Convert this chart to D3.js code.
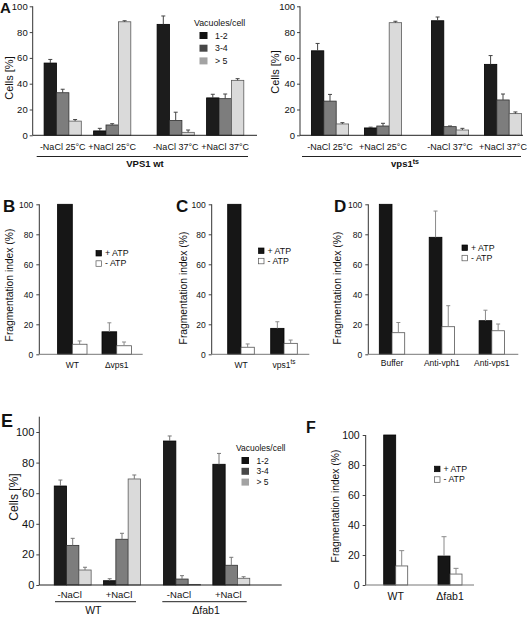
<!DOCTYPE html>
<html><head><meta charset="utf-8">
<script src="https://cdn.jsdelivr.net/npm/d3@7"></script>
<style>html,body{margin:0;padding:0;background:#fff}svg{display:block}text{font-family:"Liberation Sans",Arial,Helvetica,sans-serif;fill:#111}</style>
</head><body>
<script>
// ---------- DATA ----------
const vacSeries = ["1-2", "3-4", "> 5"];
const atpSeries = ["+ ATP", "- ATP"];
const aCategories = ["-NaCl 25°C", "+NaCl 25°C", "-NaCl 37°C", "+NaCl 37°C"];
const aWtValues = [[56, 33, 11], [3.4, 8, 88], [86, 11.5, 2.3], [29, 28.4, 42.6]];
const aWtErrors = [[2.8, 2.7, 1.2], [2, 1, 0.8], [6.5, 6.4, 1.8], [2.8, 3.6, 1.3]];
const aTsValues = [[65.5, 26.5, 8.8], [5.7, 7.2, 87.3], [88.8, 6.7, 4.1], [55, 27.4, 16.8]];
const aTsErrors = [[5.7, 5.2, 1], [0.6, 2.1, 1.1], [2.9, 0.5, 1.3], [6.8, 4.6, 1.3]];
const bCategories = ["WT", "Δvps1"];
const bValues = [[100, 6.7], [15, 5.7]];
const bErrors = [[0, 2.2], [6, 2.5]];
const cCategories = ["WT", "vps1ts"];
const cValues = [[100, 4.7], [17.3, 7.3]];
const cErrors = [[0, 2.2], [4.4, 2.2]];
const dCategories = ["Buffer", "Anti-vph1", "Anti-vps1"];
const dValues = [[100, 14.4], [78, 18.4], [22.4, 15.7]];
const dErrors = [[0, 6.8], [17.5, 14], [7, 4.5]];
const eCategories = ["-NaCl", "+NaCl", "-NaCl", "+NaCl"];
const eGroups = ["WT", "Δfab1"];
const eValues = [[64.7, 25.9, 9.8], [2.8, 29.9, 69.3], [94.1, 3.9, 0.4], [78.9, 12.9, 4.4]];
const eErrors = [[3.9, 4.6, 1.8], [1.3, 3.9, 2.6], [3.3, 2.2, 0], [7.1, 5.2, 1]];
const fCategories = ["WT", "Δfab1"];
const fValues = [[100, 12.7], [19.3, 7.3]];
const fErrors = [[0, 10.2], [12.9, 3.8]];
const pctTicks = [0, 20, 40, 60, 80, 100];

// ---------- STYLE ----------
const vacFill = ["#1c1c1c", "#7d7d7d", "#dadada"];
const vacStroke = ["#000", "#2e2e2e", "#5a5a5a"];
const vacLegend = ["#111", "#474747", "#a3a3a3"];
const atpFill = ["#161616", "#ffffff"];
const atpStroke = ["#000", "#555"];

const W = 527, H = 617;
const svg = d3.select("body").append("svg").attr("width", W).attr("height", H);

function panel(o) {
  const g = svg.append("g");
  const k = (o.y0 - o.y100) / 100;
  const yMax = o.yMax || 100;
  const y = d3.scaleLinear().domain([0, yMax]).range([o.y0, o.y0 - k * yMax]);
  const xi = d3.scaleLinear().domain([0, 1]).range([o.axisX + o.first, o.axisX + o.first + o.step]);
  const cx = i => xi(i) + (o.gapAfter != null && i > o.gapAfter ? o.gap : 0);

  const ax = d3.axisLeft(y).tickValues(pctTicks).tickSize(o.tickLen).tickSizeOuter(0).tickPadding(o.tickPad);
  const ag = g.append("g").attr("transform", `translate(${o.axisX},0)`).call(ax);
  ag.select(".domain").remove();
  ag.selectAll(".tick line").attr("stroke", "#444");
  ag.selectAll(".tick text").attr("font-size", o.tickFont).attr("font-family", '"Liberation Sans",Arial,sans-serif').attr("fill", "#111");
  g.append("line").attr("x1", o.axisX).attr("x2", o.axisX).attr("y1", y(0)).attr("y2", y(yMax)).attr("stroke", "#333").attr("stroke-width", 1);

  const ns = o.values[0].length;
  o.values.forEach((vals, i) => {
    vals.forEach((v, j) => {
      const x = cx(i) - ns * o.bw / 2 + j * o.bw;
      g.append("rect").attr("x", x).attr("y", y(v)).attr("width", o.bw).attr("height", y(0) - y(v))
        .attr("fill", o.fills[j]).attr("stroke", o.strokes[j]).attr("stroke-width", 0.8);
      const e = o.errors[i][j];
      if (e > 0) {
        const xm = x + o.bw / 2;
        g.append("line").attr("x1", xm).attr("x2", xm).attr("y1", y(v)).attr("y2", y(v + e)).attr("stroke", o.errColor).attr("stroke-width", 1);
        g.append("line").attr("x1", xm - o.cap).attr("x2", xm + o.cap).attr("y1", y(v + e)).attr("y2", y(v + e)).attr("stroke", o.errColor).attr("stroke-width", 1);
      }
    });
  });

  g.append("line").attr("x1", o.axisX).attr("x2", o.xEnd).attr("y1", y(0)).attr("y2", y(0)).attr("stroke", o.xAxisColor).attr("stroke-width", 1);

  o.categories.forEach((c, i) => {
    const t = g.append("text").attr("x", cx(i) + (o.labelShift || 0)).attr("y", o.labelY).attr("text-anchor", "middle").attr("font-size", o.catFont);
    if (c === "vps1ts") {
      t.append("tspan").text("vps1");
      t.append("tspan").text("ts").attr("font-size", o.catFont * 0.75).attr("dy", -4);
    } else t.text(c);
  });

  g.append("text").attr("transform", `translate(${o.ylabX},${o.ylabY}) rotate(-90)`).attr("text-anchor", "middle")
    .attr("font-size", o.ylabFont).text(o.ylab);

  if (o.letter) g.append("text").attr("x", o.letter[0]).attr("y", o.letter[1]).attr("font-size", o.letter[2])
    .attr("font-weight", "bold").text(o.letter[3]);
  return { g, y, cx };
}

function vacLegendDraw(x, y, font, rowH, sw) {
  svg.append("text").attr("x", x).attr("y", y).attr("font-size", font).text("Vacuoles/cell");
  vacSeries.forEach((s, j) => {
    const ry = y + 6 + j * rowH;
    svg.append("rect").attr("x", x + sw[0]).attr("y", ry).attr("width", sw[1]).attr("height", sw[2]).attr("fill", vacLegend[j]);
    svg.append("text").attr("x", x + sw[3]).attr("y", ry + sw[2] - 0.5).attr("font-size", font).text(s);
  });
}

function atpLegendDraw(x, y, font, rowH) {
  atpSeries.forEach((s, j) => {
    const ry = y + j * rowH;
    svg.append("rect").attr("x", x).attr("y", ry - 5.5).attr("width", 5.5).attr("height", 5.5)
      .attr("fill", atpFill[j]).attr("stroke", j ? "#555" : "#000").attr("stroke-width", 0.7);
    svg.append("text").attr("x", x + 9).attr("y", ry).attr("font-size", font).text(s);
  });
}

// ---------- PANEL A ----------
const baseA = {
  y0: 135.3, y100: 6.3, tickLen: 3, tickPad: 2, tickFont: 9.5, bw: 12.4, cap: 2,
  fills: vacFill, strokes: vacStroke, errColor: "#444", xAxisColor: "#222",
  catFont: 9, labelY: 149.5, ylabFont: 11, ylab: "Cells [%]", gapAfter: 1
};
panel(Object.assign({}, baseA, { axisX: 32.7, first: 30, step: 49.5, gap: 14, xEnd: 257, values: aWtValues, errors: aWtErrors,
  categories: aCategories, ylabX: 13, ylabY: 78, letter: [0, 12.5, 15, "A"] }));
panel(Object.assign({}, baseA, { axisX: 300, first: 30, step: 53, gap: 14, xEnd: 523, values: aTsValues, errors: aTsErrors,
  categories: aCategories, ylabX: 279, ylabY: 72 }));
svg.append("line").attr("x1", 36.7).attr("x2", 248).attr("y1", 156.5).attr("y2", 156.5).attr("stroke", "#222");
svg.append("text").attr("x", 145).attr("y", 166.5).attr("text-anchor", "middle").attr("font-size", 9.5).attr("font-weight", "bold").text("VPS1 wt");
svg.append("line").attr("x1", 302).attr("x2", 521).attr("y1", 156.5).attr("y2", 156.5).attr("stroke", "#222");
const tsLab = svg.append("text").attr("x", 405).attr("y", 167).attr("text-anchor", "middle").attr("font-size", 9.5).attr("font-weight", "bold");
tsLab.append("tspan").text("vps1");
tsLab.append("tspan").text("ts").attr("font-size", 7).attr("dy", -3.5);
vacLegendDraw(194, 26, 8.8, 12.7, [5.5, 8, 7, 21]);

// ---------- PANELS B, C, D ----------
const baseF = {
  y0: 354.3, y100: 204.3, tickLen: 3, tickPad: 3, tickFont: 8.5, cap: 2,
  fills: atpFill, strokes: atpStroke, errColor: "#8a8a8a", xAxisColor: "#777",
  catFont: 8.5, labelY: 368, ylabFont: 10.3, ylab: "Fragmentation index (%)"
};
panel(Object.assign({}, baseF, { axisX: 39.3, first: 33, step: 44.4, xEnd: 142.7, bw: 14.7, values: bValues, errors: bErrors,
  categories: bCategories, ylabX: 13, ylabY: 285, letter: [3, 212, 17, "B"] }));
atpLegendDraw(96, 256, 8.8, 10.3);
panel(Object.assign({}, baseF, { axisX: 211.7, first: 29.3, step: 43, xEnd: 309.3, bw: 13.3, values: cValues, errors: cErrors,
  categories: cCategories, ylabX: 187, ylabY: 288, letter: [176, 212, 17, "C"] }));
atpLegendDraw(258.5, 253.5, 8.8, 10.3);
panel(Object.assign({}, baseF, { axisX: 368.3, first: 23.7, step: 49.9, xEnd: 518.3, bw: 12.7, values: dValues, errors: dErrors,
  categories: dCategories, labelY: 366, ylabX: 341, ylabY: 288, letter: [334, 212, 17, "D"] }));
atpLegendDraw(462, 250.5, 8.8, 10.3);

// ---------- PANEL E ----------
panel({ axisX: 39.3, y0: 585, y100: 432, yMax: 110, tickLen: 3, tickPad: 2, tickFont: 11, bw: 12.3, cap: 2,
  first: 33.4, step: 49.3, gap: 10.7, gapAfter: 1, xEnd: 281.7,
  fills: vacFill, strokes: vacStroke, errColor: "#777", xAxisColor: "#222",
  values: eValues, errors: eErrors, categories: eCategories, catFont: 9.5, labelY: 598, labelShift: -3,
  ylabFont: 12, ylab: "Cells [%]", ylabX: 18, ylabY: 497, letter: [1, 427, 18, "E"] });
svg.append("line").attr("x1", 55).attr("x2", 136).attr("y1", 601.7).attr("y2", 601.7).attr("stroke", "#222");
svg.append("line").attr("x1", 162.3).attr("x2", 246.7).attr("y1", 601.7).attr("y2", 601.7).attr("stroke", "#222");
svg.append("text").attr("x", 93.3).attr("y", 613.5).attr("text-anchor", "middle").attr("font-size", 10.5).text(eGroups[0]);
svg.append("text").attr("x", 206).attr("y", 613.5).attr("text-anchor", "middle").attr("font-size", 10.5).text(eGroups[1]);
vacLegendDraw(236, 451, 8.5, 10.8, [5.5, 7.5, 7, 20.5]);

// ---------- PANEL F ----------
panel(Object.assign({}, baseF, { axisX: 365.7, y0: 585, y100: 435, tickFont: 10.5, first: 30, step: 54.3, xEnd: 474, bw: 12, cap: 2.5,
  values: fValues, errors: fErrors, categories: fCategories, catFont: 10.5, labelY: 600,
  ylabX: 339, ylabY: 506, letter: [306, 433, 16, "F"] }));
atpLegendDraw(434.5, 471.7, 8.8, 10.6);
</script>
</body></html>
